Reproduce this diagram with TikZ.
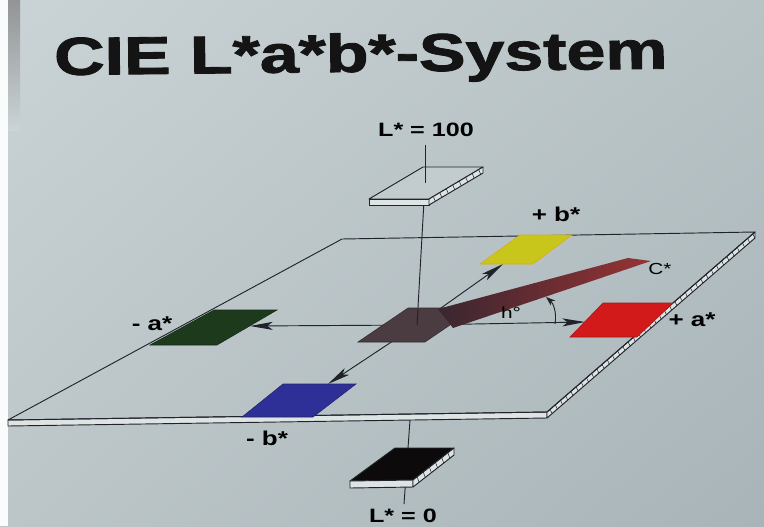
\documentclass[tikz,border=0pt]{standalone}
\usepackage{fontspec}
\setmainfont{Liberation Sans}
\newfontfamily\titlefont{Liberation Sans}[BoldFeatures={FakeBold=1.6}]
\usetikzlibrary{arrows.meta,calc,shadings}
\definecolor{bgUL}{RGB}{202,211,214}
\definecolor{bgUR}{RGB}{184,195,198}
\definecolor{bgLL}{RGB}{188,198,201}
\definecolor{bgLR}{RGB}{168,180,184}
\definecolor{ink}{RGB}{32,36,42}
\definecolor{pgreen}{RGB}{30,58,28}
\definecolor{pblue}{RGB}{46,48,152}
\definecolor{pyellow}{RGB}{200,198,26}
\definecolor{pred}{RGB}{210,26,26}
\definecolor{pdark}{RGB}{74,60,64}
\definecolor{pblack}{RGB}{12,10,10}
\definecolor{cdark}{RGB}{58,38,48}
\definecolor{cred}{RGB}{150,52,52}
\definecolor{face}{RGB}{222,228,228}
\definecolor{plate}{RGB}{194,204,206}
\begin{document}
\begin{tikzpicture}[x=0.75pt,y=-0.75pt,
  edge/.style={draw=ink,line width=0.7pt,line join=round},
  hatch/.style={draw=ink,line width=0.4pt},
  axisline/.style={draw=ink,line width=0.7pt},
  dart/.style={-{Stealth[length=17pt,width=6pt,inset=4pt]}},
  smalldart/.style={-{Stealth[length=7pt,width=5pt,inset=2pt]}},
  patch/.style={line width=0.4pt},
  lbl/.style={font=\bfseries\fontsize{15}{15}\selectfont,text=black,inner sep=0pt,xscale=1.3},
  lbig/.style={font=\bfseries\fontsize{14.5}{14.5}\selectfont,text=black,inner sep=0pt,xscale=1.3},
  lthin/.style={font=\fontsize{12}{12}\selectfont,text=black,inner sep=0pt,xscale=1.3}]
\useasboundingbox (0,0) rectangle (764,526);
\clip (0,0) rectangle (764,526);
% background
\shade[upper left=bgUL,upper right=bgUR,lower left=bgLL,lower right=bgLR] (0,0) rectangle (764,526);
\fill[white!90!bgUL] (0,0) rectangle (8,526);
\shade[top color=gray!75!bgUL,bottom color=bgUL] (8,0) rectangle (20,130);

% title
\node[anchor=base west,rotate=0.6,font=\titlefont\bfseries\fontsize{40}{40}\selectfont,text=black!92,inner sep=0pt,xscale=1.31] (title) at (54,75) {CIE L*a*b*-System};

% main slab
\coordinate (SBL) at (8,420);
\coordinate (SBR) at (547,412);
\coordinate (STR) at (755,232);
\coordinate (STL) at (342,239);
\filldraw[edge,fill=face] (SBL) -- (SBR) -- ++(0,6) -- ($(SBL)+(0,6)$) -- cycle;
\filldraw[edge,fill=face] (SBR) -- (STR) -- ++(0,6) -- ($(SBR)+(0,6)$) -- cycle;
\foreach \t in {0.015,0.04,...,0.99} \draw[hatch] ($(SBR)!\t!(STR)$) -- ++(2,4.3);
\draw[edge] (SBL) -- (SBR) -- (STR) -- (STL) -- cycle;

% centre and axis tips
\coordinate (O) at (417,325);
\coordinate (amTip) at (250,326);
\coordinate (apTip) at (585,322);
\coordinate (bpTip) at (503,264);
\coordinate (bmTip) at (328,384);
\draw[axisline,dart] (O) -- (amTip);
\draw[axisline,dart] (O) -- (apTip);
\draw[axisline,dart] (O) -- (bpTip);
\draw[axisline,dart] (O) -- (bmTip);

% L axis line (under plates)
\coordinate (Ltop) at (425,145);
\coordinate (Pc) at (425,183);
\coordinate (Lbot) at (404,504);
\coordinate (Sb) at (410,420);
\draw[axisline] (Pc) -- (O);
\draw[axisline] (Sb) -- (Lbot);

% colour patches
\filldraw[patch,fill=pgreen,draw=pgreen!70!black] (150,345) -- (217,345) -- (277,310) -- (214,310) -- cycle;
\filldraw[patch,fill=pblue,draw=pblue!70!black] (242,417) -- (313,417) -- (356,384) -- (283,384) -- cycle;
\filldraw[patch,fill=pyellow,draw=pyellow!60!orange] (480,264) -- (533,264) -- (572,235) -- (520,235) -- cycle;
\filldraw[patch,fill=pred,draw=pred!80!black] (570,337) -- (637,337) -- (673,303) -- (603,303) -- cycle;
\filldraw[patch,fill=pdark,draw=pdark!70!black] (358,342) -- (425,342) -- (475,308) -- (408,308) -- cycle;

% C* wedge
\coordinate (Ctip) at (651,261);
\shade[left color=cdark,right color=cred] (438,309) -- (628,258) -- (Ctip) -- (453,328) -- cycle;
\draw[axisline] (418,309) -- (O);

% hue arc
\coordinate (hs) at (555,324);
\coordinate (he) at (546,297);
\draw[axisline,smalldart] (hs) .. controls (557,312) and (553,303) .. (he);

% top plate (L*=100)
\coordinate (TFL) at (369,199);
\coordinate (TFR) at (429,199);
\coordinate (TBR) at (483,167);
\coordinate (TBL) at (423,167);
\filldraw[edge,fill=plate] (TFL) -- (TFR) -- (TBR) -- (TBL) -- cycle;
\filldraw[edge,fill=face] (TFL) -- (TFR) -- ++(0,6) -- ($(TFL)+(0,6)$) -- cycle;
\filldraw[edge,fill=face] (TFR) -- (TBR) -- ++(0,6) -- ($(TFR)+(0,6)$) -- cycle;
\foreach \t in {0.08,0.2,...,0.95} \draw[hatch] ($(TFR)!\t!(TBR)$) -- ++(2,4.8);
\draw[axisline] (Ltop) -- (Pc);

% bottom plate (L*=0)
\coordinate (BFL) at (350,481);
\coordinate (BFR) at (413,480);
\coordinate (BBR) at (454,448);
\coordinate (BBL) at (395,448);
\filldraw[edge,fill=pblack] (BFL) -- (BFR) -- (BBR) -- (BBL) -- cycle;
\filldraw[edge,fill=face] (BFL) -- (BFR) -- ++(0,7) -- ($(BFL)+(0,7)$) -- cycle;
\filldraw[edge,fill=face] (BFR) -- (BBR) -- ++(0,7) -- ($(BFR)+(0,7)$) -- cycle;
\foreach \t in {0.1,0.25,...,0.95} \draw[hatch] ($(BFR)!\t!(BBR)$) -- ++(2,5.4);

% labels
\node[lbig] (l100) at (426,130) {L* = 100};
\node[lbl] (bplus) at (556,214) {+ b*};
\node[lthin] (cstar) at (660,269) {C*};
\node[lthin] (hdeg) at (511,313) {h°};
\node[lbl] (aplus) at (692,320) {+ a*};
\node[lbl] (aminus) at (152,324) {- a*};
\node[lbl] (bminus) at (267,438) {- b*};
\node[lbig,anchor=base] (l0) at (403,522) {L* = 0};
\end{tikzpicture}
\end{document}
